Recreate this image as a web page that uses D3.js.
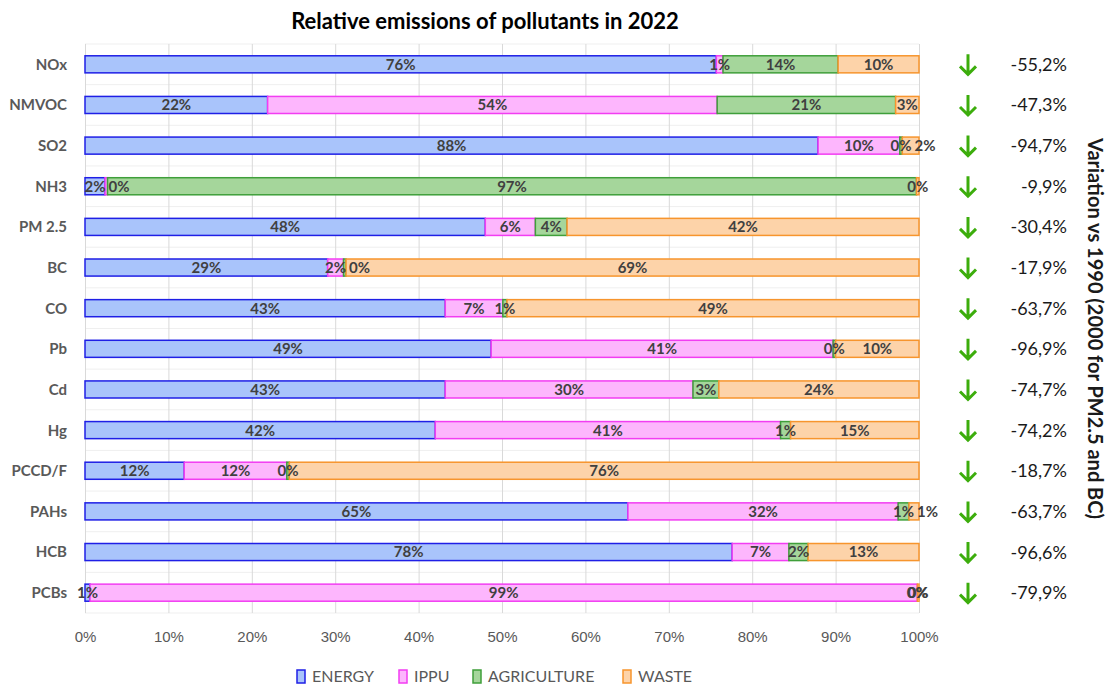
<!DOCTYPE html>
<html>
<head>
<meta charset="utf-8">
<script src="https://cdn.jsdelivr.net/npm/d3@7"></script>
<style>
  body { margin: 0; background: #fff; }
  svg { font-family: Lato, 'Open Sans', sans-serif; }
</style>
</head>
<body>
<div id="graf"></div>
<script>
// I. Datos
contaminantes = ['NOx', 'NMVOC', 'SO2', 'NH3', 'PM 2.5', 'BC', 'CO', 'Pb', 'Cd', 'Hg', 'PCCD/F', 'PAHs', 'HCB', 'PCBs']
sectores = ['ENERGY', 'IPPU', 'AGRICULTURE', 'WASTE']
energy      = [75.7, 21.9, 87.9,  2.4, 48.0, 29.1, 43.2, 48.7, 43.2, 42.0, 11.9, 65.1, 77.6,  0.6]
ippu        = [ 0.8, 53.9,  9.8,  0.3,  6.0,  1.9,  6.9, 41.0, 29.7, 41.4, 12.3, 32.4,  6.8, 99.2]
agriculture = [13.8, 21.4,  0.3, 97.0,  3.8,  0.3,  0.5,  0.3,  3.1,  1.2,  0.3,  1.3,  2.3,  0.0]
waste       = [ 9.7,  2.8,  2.0,  0.3, 42.2, 68.7, 49.4, 10.0, 24.0, 15.4, 75.5,  1.2, 13.3,  0.2]
variacion   = ['-55,2%', '-47,3%', '-94,7%', '-9,9%', '-30,4%', '-17,9%', '-63,7%', '-96,9%', '-74,7%', '-74,2%', '-18,7%', '-63,7%', '-96,6%', '-79,9%']
ticksX      = [0, 10, 20, 30, 40, 50, 60, 70, 80, 90, 100]

// II. Configuración
ancho_total = 1109
alto_total = 684
margins = { top: 44, left: 85, right: 190, bottom: 71 }
ancho = ancho_total - margins.left - margins.right
alto = alto_total - margins.top - margins.bottom

svg = d3.select('#graf').append('svg')
  .attr('width', ancho_total)
  .attr('height', alto_total)

g = svg.append('g')
  .attr('transform', `translate(${margins.left}, ${margins.top})`)

x = d3.scaleLinear().domain([0, 100]).range([0, ancho])
y = d3.scaleBand().domain(contaminantes).range([0, alto])
  .paddingInner(0.58).paddingOuter(0.29)

relleno = d3.scaleOrdinal().domain(sectores).range(['#a9c4fb', '#fdb6fd', '#a5d69b', '#fdd3a9'])
borde   = d3.scaleOrdinal().domain(sectores).range(['#1f1fe6', '#f23df2', '#3f9f3a', '#f7952d'])

tabla = contaminantes.map((c, i) => ({
  nombre: c, ENERGY: energy[i], IPPU: ippu[i], AGRICULTURE: agriculture[i], WASTE: waste[i]
}))
series = d3.stack().keys(sectores)(tabla)

// III. Rejilla
g.selectAll('.hgrid')
  .data(d3.range(contaminantes.length + 1))
  .enter().append('line')
    .attr('x1', 0).attr('x2', ancho)
    .attr('y1', i => i * y.step()).attr('y2', i => i * y.step())
    .attr('stroke', '#efefef')

xAxisCall = d3.axisBottom(x)
  .tickValues(ticksX)
  .tickSize(-alto)
  .tickFormat(d => d + '%')
xAxisGroup = g.append('g')
  .attr('transform', `translate(0, ${alto})`)
  .call(xAxisCall)
xAxisGroup.select('.domain').remove()
xAxisGroup.selectAll('line').attr('stroke', '#d9d9d9')
xAxisGroup.selectAll('text')
  .attr('y', 18)
  .attr('fill', '#595959')
  .style('font-size', '15px')

// IV. Barras
grupos = g.selectAll('.serie')
  .data(series)
  .enter().append('g')

grupos.selectAll('rect')
  .data(d => d.map(p => ({ s: d.key, p: p })))
  .enter().append('rect')
    .attr('x', d => x(d.p[0]))
    .attr('y', d => y(d.p.data.nombre))
    .attr('width', d => x(d.p[1]) - x(d.p[0]))
    .attr('height', y.bandwidth())
    .attr('fill', d => relleno(d.s))
    .attr('stroke', d => borde(d.s))
    .attr('stroke-width', 1.5)

// etiquetas de datos (se empujan a la derecha si se pisan)
etiquetas = g.append('g')
contaminantes.forEach(c => {
  let finAnterior = -Infinity
  series.forEach(s => {
    const p = s.find(q => q.data.nombre == c)
    const t = etiquetas.append('text')
      .attr('y', y(c) + y.bandwidth() / 2)
      .attr('dy', '0.36em')
      .attr('text-anchor', 'middle')
      .attr('fill', '#404040')
      .style('font-size', '15px')
      .style('font-weight', 'bold')
      .text(Math.round(p[1] - p[0]) + '%')
    const w = t.node().getComputedTextLength()
    let cx = (x(p[0]) + x(p[1])) / 2
    if (p[1] - p[0] > 0) {
      if (cx - w / 2 < finAnterior + 3) cx = finAnterior + 3 + w / 2
      finAnterior = cx + w / 2
    }
    t.attr('x', cx)
  })
})

// eje de categorías
g.selectAll('.cat')
  .data(contaminantes)
  .enter().append('text')
    .attr('x', -18)
    .attr('y', d => y(d) + y.bandwidth() / 2)
    .attr('dy', '0.36em')
    .attr('text-anchor', 'end')
    .attr('fill', '#595959')
    .style('font-size', '15px')
    .style('font-weight', 'bold')
    .text(d => d)

// V. Variación vs 1990
flechas = g.selectAll('.flecha')
  .data(contaminantes)
  .enter().append('g')
    .attr('transform', d => `translate(${ancho + 49}, ${y(d) + y.bandwidth() / 2})`)
flechas.append('path')
  .attr('d', 'M0,-10 L0,10 M-8,2 L0,10 L8,2')
  .attr('fill', 'none')
  .attr('stroke', '#3cad0c')
  .attr('stroke-width', 3)

g.selectAll('.var')
  .data(contaminantes)
  .enter().append('text')
    .attr('x', ancho + 148)
    .attr('y', d => y(d) + y.bandwidth() / 2)
    .attr('dy', '0.36em')
    .attr('text-anchor', 'end')
    .attr('fill', '#1a1a1a')
    .style('font-size', '18px')
    .text((d, i) => variacion[i])

svg.append('text')
  .attr('transform', `translate(1088, ${margins.top + alto / 2}) rotate(90)`)
  .attr('text-anchor', 'middle')
  .attr('fill', '#1a1a1a')
  .style('font-size', '20px')
  .style('font-weight', 'bold')
  .text('Variation vs 1990 (2000 for PM2.5 and BC)')

// VI. Título
svg.append('text')
  .attr('x', 485)
  .attr('y', 29)
  .attr('text-anchor', 'middle')
  .attr('fill', '#000')
  .style('font-size', '22px')
  .style('font-weight', 'bold')
  .text('Relative emissions of pollutants in 2022')

// VII. Leyenda
leyenda = svg.append('g').attr('transform', 'translate(0, 676)')
posLeyenda = [297, 399, 473, 623]
items = leyenda.selectAll('g')
  .data(sectores)
  .enter().append('g')
    .attr('transform', (d, i) => `translate(${posLeyenda[i]}, 0)`)
items.append('rect')
  .attr('x', 0).attr('y', -6)
  .attr('width', 8).attr('height', 13)
  .attr('fill', d => relleno(d))
  .attr('stroke', d => borde(d))
  .attr('stroke-width', 1.5)
items.append('text')
  .attr('x', 15)
  .attr('dy', '0.36em')
  .attr('fill', '#595959')
  .style('font-size', '16px')
  .text(d => d)
</script>
</body>
</html>
